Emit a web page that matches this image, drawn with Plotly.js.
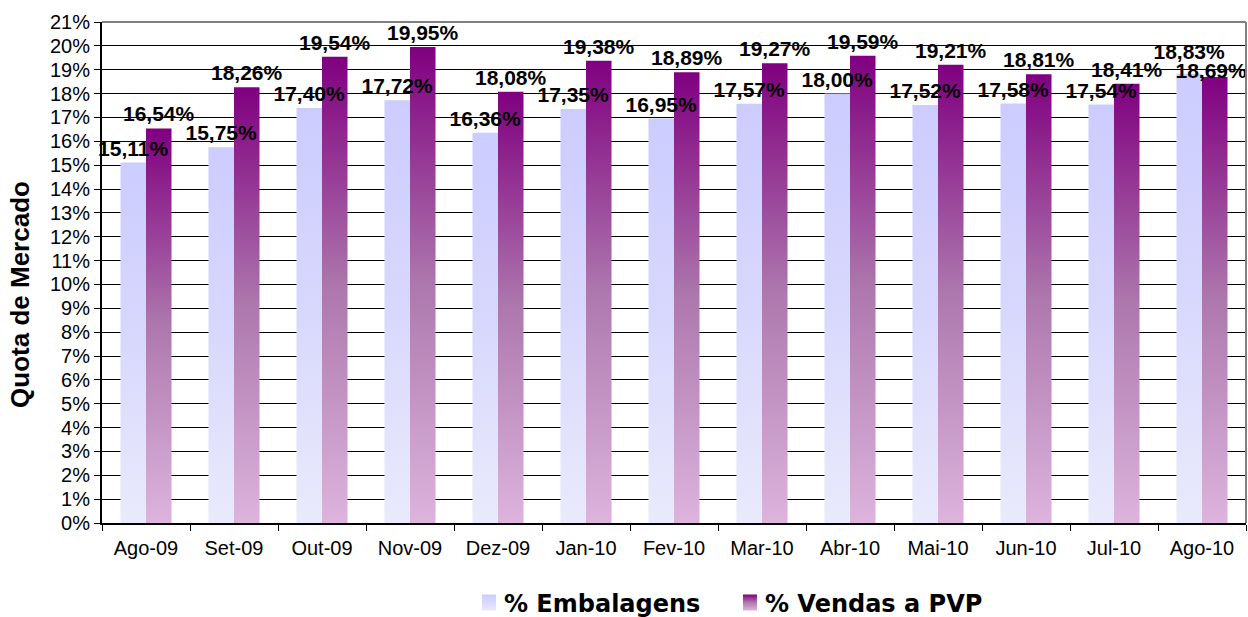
<!DOCTYPE html>
<html>
<head>
<meta charset="utf-8">
<script src="https://cdn.plot.ly/plotly-3.0.1.min.js"></script>
<style>
  html, body { margin: 0; padding: 0; background: #ffffff; }
  #chart { width: 1248px; height: 617px; }
</style>
</head>
<body>
<div id="chart"></div>
<script>
// ---- data ----
const categories = ['Ago-09', 'Set-09', 'Out-09', 'Nov-09', 'Dez-09', 'Jan-10', 'Fev-10',
                    'Mar-10', 'Abr-10', 'Mai-10', 'Jun-10', 'Jul-10', 'Ago-10'];
const embalagens = [15.11, 15.75, 17.40, 17.72, 16.36, 17.35, 16.95, 17.57, 18.00, 17.52, 17.58, 17.54, 18.83];
const vendasPVP  = [16.54, 18.26, 19.54, 19.95, 18.08, 19.38, 18.89, 19.27, 19.59, 19.21, 18.81, 18.41, 18.69];
const seriesNames = ['% Embalagens', '% Vendas a PVP'];
const yTickVals = [0,1,2,3,4,5,6,7,8,9,10,11,12,13,14,15,16,17,18,19,20,21];

const fmt = v => v.toFixed(2).replace('.', ',') + '%';

const labelFont = { family: 'Liberation Sans, Arial, sans-serif', size: 21, color: '#000000', weight: 'bold' };

const traces = [
  {
    type: 'bar', name: seriesNames[0], x: categories, y: embalagens,
    text: embalagens.map(fmt), textposition: 'outside', textfont: labelFont,
    constraintext: 'none', cliponaxis: false,
    marker: { color: '#d6d6fd', line: { width: 0 } }, hoverinfo: 'skip'
  },
  {
    type: 'bar', name: seriesNames[1], x: categories, y: vendasPVP,
    text: vendasPVP.map(fmt), textposition: 'outside', textfont: labelFont,
    constraintext: 'none', cliponaxis: false,
    marker: { color: '#a860a8', line: { width: 0 } }, hoverinfo: 'skip'
  }
];

const layout = {
  width: 1248, height: 617,
  margin: { l: 102, r: 2, t: 22, b: 94, autoexpand: false },
  paper_bgcolor: '#ffffff', plot_bgcolor: '#ffffff',
  font: { family: 'Liberation Sans, Arial, sans-serif', color: '#000000' },
  barmode: 'group', bargap: 0.42, bargroupgap: 0,
  showlegend: true,
  legend: {
    orientation: 'h', x: 0.3164, xanchor: 'left', xref: 'paper',
    y: 0.023, yanchor: 'middle', yref: 'container',
    font: { family: 'DejaVu Sans, Verdana, sans-serif', size: 24, weight: 'bold', color: '#000000' },
    entrywidth: 216, entrywidthmode: 'pixels',
    traceorder: 'normal', bgcolor: 'rgba(0,0,0,0)'
  },
  xaxis: {
    type: 'category', tickson: 'boundaries', ticks: 'outside', ticklen: 6,
    tickcolor: '#000000', tickwidth: 1, ticklabelstandoff: 6, automargin: false,
    showline: true, linecolor: '#000000', linewidth: 2,
    showgrid: false, zeroline: false,
    tickfont: { size: 20, family: 'Liberation Sans, Arial, sans-serif' }
  },
  yaxis: {
    range: [0, 21], tickvals: yTickVals, ticktext: yTickVals.map(v => v + '%'),
    ticks: 'outside', ticklen: 6, tickcolor: '#000000', tickwidth: 1, automargin: false,
    showline: true, linecolor: '#000000', linewidth: 2,
    showgrid: true, gridcolor: '#000000', gridwidth: 1,
    zeroline: false,
    tickfont: { size: 20, family: 'Liberation Sans, Arial, sans-serif' },
    title: { text: 'Quota de Mercado', standoff: 8,
             font: { size: 26, family: 'Liberation Sans, Arial, sans-serif', weight: 'bold' } }
  },
  shapes: [
    { type: 'line', xref: 'paper', yref: 'paper', x0: 0, x1: 1, y0: 1, y1: 1,
      line: { color: '#808080', width: 2 }, layer: 'above' },
    { type: 'line', xref: 'paper', yref: 'paper', x0: 1, x1: 1, y0: 0, y1: 1,
      line: { color: '#808080', width: 2 }, layer: 'above' }
  ]
};

const gd = document.getElementById('chart');

function applyGradients() {
  const NS = 'http://www.w3.org/2000/svg';
  const svg = gd.querySelector('svg.main-svg');
  let defs = svg.querySelector('defs');
  if (!defs) { defs = document.createElementNS(NS, 'defs'); svg.insertBefore(defs, svg.firstChild); }
  const grads = [
    { id: 'gradEmb', stops: [[0, '#ccccff'], [0.5, '#d8d8fd'], [1, '#eaeafc']] },
    { id: 'gradPvp', stops: [[0, '#800080'], [0.5, '#ad78ad'], [1, '#dcb4dc']] }
  ];
  grads.forEach(g => {
    const lg = document.createElementNS(NS, 'linearGradient');
    lg.setAttribute('id', g.id);
    lg.setAttribute('x1', '0'); lg.setAttribute('y1', '0');
    lg.setAttribute('x2', '0'); lg.setAttribute('y2', '1');
    g.stops.forEach(s => {
      const st = document.createElementNS(NS, 'stop');
      st.setAttribute('offset', s[0]);
      st.setAttribute('stop-color', s[1]);
      lg.appendChild(st);
    });
    defs.appendChild(lg);
  });
  const barTraces = gd.querySelectorAll('g.barlayer g.trace.bars');
  const labelGroups = [[], []];
  barTraces.forEach((t, i) => {
    t.querySelectorAll('g.point path').forEach(p => { p.style.fill = 'url(#' + grads[i].id + ')'; });
  });
  // bring all data labels above all bars (each wrapped in its own group for nudging)
  const barlayer = gd.querySelector('g.barlayer');
  if (barlayer) {
    const topG = document.createElementNS(NS, 'g');
    topG.setAttribute('class', 'toplabels');
    barTraces.forEach((t, i) => {
      t.querySelectorAll('g.point text').forEach(tx => {
        const w = document.createElementNS(NS, 'g');
        w.appendChild(tx);
        topG.appendChild(w);
        labelGroups[i].push(w);
      });
    });
    barlayer.appendChild(topG);
    // resolve labels of one category that sit almost on top of each other:
    // the higher bar's label goes up, the other goes down (as the source does)
    const n = Math.min(labelGroups[0].length, labelGroups[1].length);
    const svgW = svg.getBoundingClientRect().right;
    for (let k = 0; k < n; k++) {
      const a = labelGroups[0][k], b = labelGroups[1][k];
      const ra = a.getBoundingClientRect(), rb = b.getBoundingClientRect();
      const vOverlap = Math.min(ra.bottom, rb.bottom) - Math.max(ra.top, rb.top);
      const hOverlap = Math.min(ra.right, rb.right) - Math.max(ra.left, rb.left);
      let dyA = 0, dyB = 0;
      if (vOverlap > ra.height * 0.7 && hOverlap > 0) {
        if (embalagens[k] >= vendasPVP[k]) { dyA = -8; dyB = 8; } else { dyA = 8; dyB = -8; }
      }
      const dxA = Math.min(0, svgW - 1 - ra.right);
      const dxB = Math.min(0, svgW - 1 - rb.right);
      if (dyA || dxA) a.setAttribute('transform', 'translate(' + dxA + ',' + dyA + ')');
      if (dyB || dxB) b.setAttribute('transform', 'translate(' + dxB + ',' + dyB + ')');
    }
  }
  // axis title sits a little lower and further left than Plotly's default, as in the source
  const yt = gd.querySelector('g.g-ytitle');
  if (yt) yt.setAttribute('transform', 'translate(-5,22)');
  const legTraces = gd.querySelectorAll('g.legend g.traces');
  legTraces.forEach((t, i) => {
    t.querySelectorAll('g.legendpoints path').forEach(p => {
      p.style.fill = 'url(#' + grads[i].id + ')';
      p.setAttribute('d', 'M12,8H-2V-8H12Z');
    });
  });
}

Plotly.newPlot(gd, traces, layout, { displayModeBar: false, staticPlot: true }).then(applyGradients);
</script>
</body>
</html>
